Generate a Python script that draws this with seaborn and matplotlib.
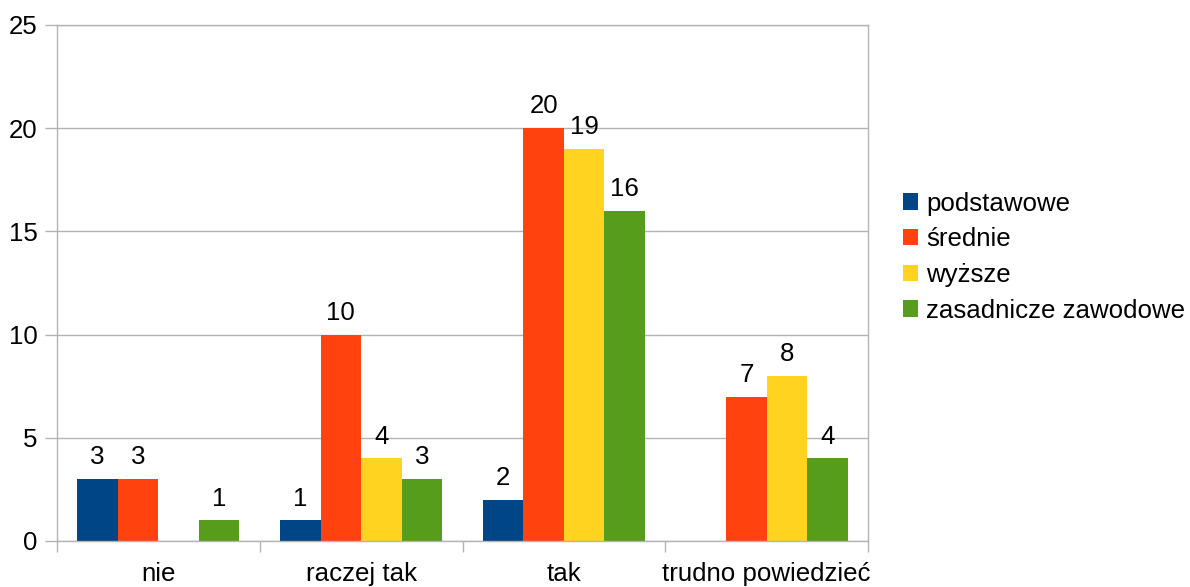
import numpy as np
import pandas as pd
import matplotlib
matplotlib.use('Agg')
import matplotlib.pyplot as plt
import seaborn as sns

# Data
categories = ['nie', 'raczej tak', 'tak', 'trudno powiedzieć']
series = ['podstawowe', 'średnie', 'wyższe', 'zasadnicze zawodowe']
podstawowe = [3, 1, 2, 0]
srednie = [3, 10, 20, 7]
wyzsze = [0, 4, 19, 8]
zasadnicze = [1, 3, 16, 4]
y_ticks = [0, 5, 10, 15, 20, 25]

COLORS = ['#004586', '#ff420e', '#ffd320', '#579d1c']
GRID = '#b3b3b3'
FS = 18.6

rows = []
for name, vals in zip(series, [podstawowe, srednie, wyzsze, zasadnicze]):
    for cat, v in zip(categories, vals):
        rows.append({'kategoria': cat, 'wykształcenie': name, 'liczba': v})
df = pd.DataFrame(rows)

sns.set_style('white')
plt.rcParams['font.family'] = ['Liberation Sans', 'DejaVu Sans']
plt.rcParams['text.color'] = 'black'

fig = plt.figure(figsize=(11.9, 5.87), dpi=100)
ax = fig.add_axes([57 / 1190, 1 - 541 / 587, 811 / 1190, 516 / 587])

sns.barplot(data=df, x='kategoria', y='liczba', hue='wykształcenie',
            order=categories, hue_order=series, palette=COLORS,
            width=0.8, linewidth=0, saturation=1, ax=ax)

# Value labels (skip empty bars)
for cont in ax.containers:
    labels = [f'{b.get_height():g}' if b.get_height() > 0 else '' for b in cont]
    ax.bar_label(cont, labels=labels, padding=7, fontsize=FS, color='black')

ax.set_xlim(-0.5, len(categories) - 0.5)
ax.set_ylim(0, 25)
ax.set_yticks(y_ticks)
ax.yaxis.grid(True, color=GRID, linewidth=1)
ax.set_axisbelow(True)
for s in ax.spines.values():
    s.set_color(GRID)
    s.set_linewidth(1)

ax.set_xlabel('')
ax.set_ylabel('')
ax.tick_params(axis='y', labelsize=FS, length=9, color=GRID, width=1, pad=5, left=True,
               labelcolor='black')
ax.tick_params(axis='x', which='major', labelsize=FS, length=0, pad=15, labelcolor='black')
ax.set_xticks(np.arange(-0.5, len(categories), 1.0), minor=True)
ax.tick_params(axis='x', which='minor', length=8, color=GRID, width=1, bottom=True)

leg = ax.legend(loc='center left', bbox_to_anchor=(1.03, 0.55), frameon=False,
                fontsize=FS, handlelength=0.6, handleheight=0.6, handletextpad=0.32,
                labelspacing=0.45, borderaxespad=0)
for t in leg.get_texts():
    t.set_color('black')

plt.savefig('out.png', dpi=100)
plt.close()
